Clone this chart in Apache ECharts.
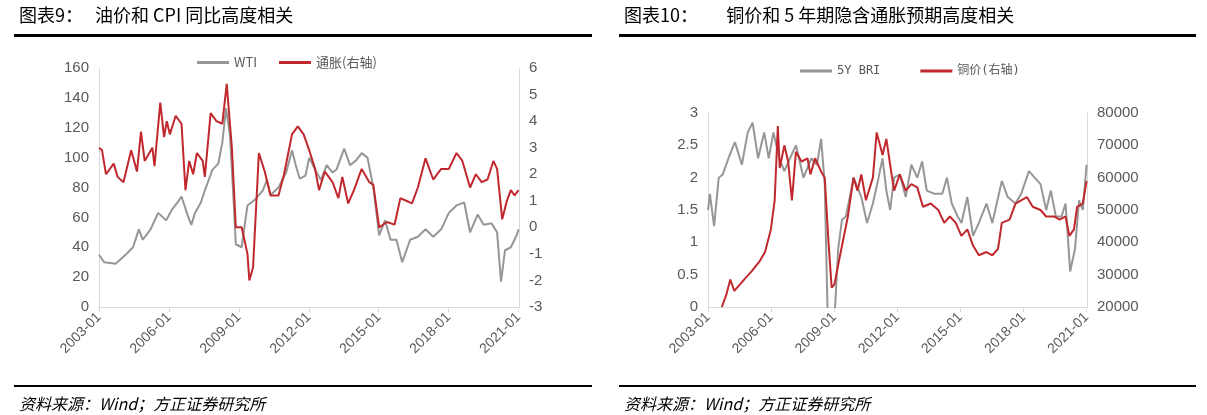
<!DOCTYPE html>
<html>
<head>
<meta charset="utf-8">
<script src="https://cdn.jsdelivr.net/npm/echarts@6/dist/echarts.min.js"></script>
<style>
  html, body { margin: 0; padding: 0; background: #fff; }
  #main { width: 1207px; height: 415px; }
</style>
</head>
<body>
<div id="main"></div>
<script>
// 图表9：WTI（左轴）与通胀（右轴）
const wtiData = [
  [2003.0, 35], [2003.22, 30], [2003.71, 29], [2004.21, 36], [2004.46, 40], [2004.71, 52],
  [2004.88, 45], [2005.21, 52], [2005.54, 63], [2005.88, 58], [2006.12, 65], [2006.37, 70],
  [2006.54, 74], [2006.79, 62], [2006.96, 55], [2007.12, 63], [2007.37, 70], [2007.54, 78],
  [2007.87, 92], [2008.12, 96], [2008.29, 110], [2008.45, 133], [2008.62, 115], [2008.78, 70],
  [2008.87, 42], [2009.12, 40], [2009.37, 68], [2009.70, 72], [2010.03, 78], [2010.20, 85],
  [2010.36, 75], [2010.70, 80], [2011.03, 90], [2011.28, 105], [2011.44, 95], [2011.61, 86],
  [2011.86, 88], [2012.02, 100], [2012.27, 92], [2012.52, 85], [2012.77, 95], [2013.02, 90],
  [2013.19, 92], [2013.52, 106], [2013.77, 95], [2014.02, 98], [2014.27, 103], [2014.52, 100],
  [2014.77, 80], [2015.02, 48], [2015.27, 58], [2015.51, 45], [2015.76, 45], [2016.01, 30],
  [2016.35, 45], [2016.68, 47], [2017.01, 52], [2017.34, 47], [2017.68, 52], [2018.01, 63],
  [2018.34, 68], [2018.67, 70], [2018.92, 50], [2019.25, 62], [2019.50, 55], [2019.84, 56],
  [2020.08, 50], [2020.25, 17], [2020.42, 38], [2020.67, 40], [2020.92, 48], [2021.0, 52]
];
const cpiData = [
  [2003.0, 3.0], [2003.13, 2.9], [2003.30, 2.0], [2003.63, 2.4], [2003.80, 1.9], [2004.05, 1.7],
  [2004.38, 2.9], [2004.63, 2.1], [2004.80, 3.6], [2004.96, 2.5], [2005.29, 3.0], [2005.38, 2.3],
  [2005.63, 4.7], [2005.79, 3.4], [2005.91, 4.0], [2006.04, 3.5], [2006.29, 4.2], [2006.54, 3.9],
  [2006.71, 1.4], [2006.87, 2.5], [2007.04, 2.0], [2007.20, 2.8], [2007.45, 2.5], [2007.54, 1.9],
  [2007.79, 4.3], [2008.04, 4.0], [2008.29, 3.9], [2008.48, 5.4], [2008.70, 3.0], [2008.87, 0.0],
  [2009.12, 0.0], [2009.37, -1.0], [2009.45, -2.0], [2009.61, -1.5], [2009.86, 2.8], [2010.11, 2.1],
  [2010.36, 1.2], [2010.70, 1.2], [2010.94, 2.0], [2011.28, 3.5], [2011.53, 3.8], [2011.78, 3.5],
  [2012.02, 2.9], [2012.27, 2.2], [2012.44, 1.4], [2012.69, 2.1], [2013.02, 1.7], [2013.27, 1.1],
  [2013.44, 1.9], [2013.69, 0.9], [2013.94, 1.4], [2014.27, 2.2], [2014.60, 1.7], [2014.77, 1.6],
  [2015.02, 0.0], [2015.35, 0.2], [2015.68, 0.1], [2015.93, 1.1], [2016.18, 1.0], [2016.43, 0.9],
  [2016.68, 1.5], [2017.01, 2.6], [2017.34, 1.8], [2017.68, 2.2], [2018.01, 2.2], [2018.34, 2.8],
  [2018.59, 2.5], [2018.92, 1.5], [2019.17, 2.0], [2019.42, 1.7], [2019.67, 1.8], [2019.92, 2.5],
  [2020.08, 2.2], [2020.30, 0.3], [2020.50, 1.0], [2020.67, 1.4], [2020.83, 1.2], [2021.0, 1.4]
];
// 图表10：5Y BRI（左轴）与铜价（右轴）
const briData = [
  [2003.0, 1.5], [2003.09, 1.75], [2003.29, 1.25], [2003.51, 2.0], [2003.70, 2.05], [2004.03, 2.35],
  [2004.28, 2.55], [2004.61, 2.2], [2004.89, 2.7], [2005.12, 2.85], [2005.38, 2.3], [2005.67, 2.7],
  [2005.89, 2.3], [2006.11, 2.7], [2006.39, 2.3], [2006.63, 2.1], [2006.90, 2.3], [2007.18, 2.5],
  [2007.54, 2.0], [2007.91, 2.3], [2008.18, 2.2], [2008.38, 2.6], [2008.55, 1.9], [2008.68, 0.0],
  [2008.82, -0.3], [2009.01, -0.2], [2009.19, 0.9], [2009.37, 1.35], [2009.56, 1.4], [2009.92, 2.0],
  [2010.29, 1.7], [2010.56, 1.3], [2010.84, 1.6], [2011.11, 2.0], [2011.30, 2.3], [2011.48, 1.8],
  [2011.66, 1.5], [2011.85, 2.0], [2012.12, 2.05], [2012.40, 1.7], [2012.67, 2.2], [2012.95, 2.0],
  [2013.18, 2.25], [2013.40, 1.8], [2013.77, 1.75], [2014.14, 1.75], [2014.36, 2.0], [2014.59, 1.6],
  [2014.87, 1.4], [2015.05, 1.3], [2015.33, 1.7], [2015.60, 1.1], [2015.88, 1.3], [2016.24, 1.6],
  [2016.52, 1.3], [2016.97, 1.95], [2017.25, 1.7], [2017.62, 1.6], [2017.89, 1.75], [2018.26, 2.1],
  [2018.53, 2.0], [2018.81, 1.9], [2019.08, 1.5], [2019.30, 1.8], [2019.54, 1.4], [2019.81, 1.4],
  [2020.0, 1.6], [2020.22, 0.55], [2020.45, 0.9], [2020.64, 1.65], [2020.82, 1.5], [2021.0, 2.2]
];
const copperData = [
  [2003.66, 20000], [2003.88, 24000], [2004.06, 28500], [2004.25, 25000], [2004.52, 27000],
  [2004.79, 29000], [2005.07, 31000], [2005.44, 34000], [2005.71, 37000], [2005.99, 44000],
  [2006.17, 53000], [2006.32, 76000], [2006.41, 63000], [2006.63, 70000], [2006.81, 65000],
  [2006.99, 53000], [2007.18, 68000], [2007.45, 65000], [2007.73, 66000], [2007.87, 61000],
  [2008.09, 66000], [2008.37, 62000], [2008.55, 60000], [2008.73, 40000], [2008.88, 26000],
  [2009.01, 27000], [2009.28, 36000], [2009.65, 48000], [2009.92, 60000], [2010.11, 56000],
  [2010.29, 61000], [2010.51, 53000], [2010.84, 60000], [2011.02, 74000], [2011.30, 67000],
  [2011.48, 72000], [2011.66, 64000], [2011.85, 56000], [2012.12, 61000], [2012.40, 56000],
  [2012.67, 58000], [2012.95, 57000], [2013.22, 51000], [2013.59, 52000], [2013.95, 50000],
  [2014.23, 46000], [2014.50, 48000], [2014.78, 46000], [2015.05, 42000], [2015.33, 44000],
  [2015.60, 39000], [2015.88, 36000], [2016.24, 37000], [2016.52, 36000], [2016.79, 38000],
  [2016.97, 46000], [2017.34, 47000], [2017.62, 52000], [2017.89, 53000], [2018.16, 54000],
  [2018.44, 51000], [2018.81, 50000], [2019.08, 48000], [2019.45, 48000], [2019.72, 47000],
  [2020.0, 48000], [2020.18, 42000], [2020.40, 44000], [2020.55, 51000], [2020.82, 52000],
  [2021.0, 59000]
];

var chartDom = document.getElementById('main');
var myChart = echarts.init(chartDom);
var option;
var FONT = '"Noto Sans CJK SC", sans-serif';
var labelColor = '#595959';
var axisColor = '#d9d9d9';
var lineIcon = 'path://M0,0 L32,0 L32,3 L0,3 Z';

function xAxisCfg(gridIndex) {
    return {
        type: 'value', gridIndex: gridIndex, min: 2003, max: 2021.02, interval: 3,
        axisLine: { show: true, lineStyle: { color: axisColor } },
        axisTick: { show: true, lineStyle: { color: axisColor } },
        splitLine: { show: false },
        axisLabel: {
            rotate: 45, color: labelColor, fontSize: 14, fontFamily: 'Arial, sans-serif',
            showMaxLabel: false,
            formatter: function (v) { return Number.isInteger(v) ? v + '-01' : ''; }
        }
    };
}
function yAxisCfg(gridIndex, min, max, interval, right) {
    return {
        type: 'value', gridIndex: gridIndex, min: min, max: max, interval: interval,
        position: right ? 'right' : 'left',
        axisLine: { show: true, lineStyle: { color: axisColor } },
        axisTick: { show: false },
        splitLine: { show: false },
        axisLabel: { color: labelColor, fontSize: 15, fontFamily: 'Arial, sans-serif', margin: 10,
                     formatter: function (v) { return String(v); } }
    };
}

option = {
    animation: false,
    title: [
        { text: '图表9：   油价和 CPI 同比高度相关', left: 14, top: 1,
          textStyle: { fontSize: 18, fontWeight: 'normal', color: '#000', fontFamily: FONT } },
        { text: '图表10：       铜价和 5 年期隐含通胀预期高度相关', left: 619, top: 1,
          textStyle: { fontSize: 18, fontWeight: 'normal', color: '#000', fontFamily: FONT } },
        { text: '资料来源：Wind；方正证券研究所', left: 14, top: 391,
          textStyle: { fontSize: 16, fontWeight: 'normal', fontStyle: 'italic', color: '#000', fontFamily: FONT } },
        { text: '资料来源：Wind；方正证券研究所', left: 619, top: 391,
          textStyle: { fontSize: 16, fontWeight: 'normal', fontStyle: 'italic', color: '#000', fontFamily: FONT } }
    ],
    graphic: [
        { type: 'rect', shape: { x: 14, y: 34, width: 578, height: 3 }, style: { fill: '#000' } },
        { type: 'rect', shape: { x: 619, y: 34, width: 577, height: 3 }, style: { fill: '#000' } },
        { type: 'rect', shape: { x: 14, y: 385, width: 578, height: 2 }, style: { fill: '#000' } },
        { type: 'rect', shape: { x: 619, y: 385, width: 577, height: 2 }, style: { fill: '#000' } }
    ],
    legend: [
        { data: ['WTI', '通胀(右轴)'], left: 192, top: 51, itemWidth: 32, itemHeight: 3, itemGap: 22,
          icon: lineIcon,
          textStyle: { color: labelColor, fontSize: 13, fontFamily: FONT } },
        { data: ['5Y BRI', '铜价(右轴)'], left: 795, top: 60, itemWidth: 32, itemHeight: 3, itemGap: 40,
          icon: lineIcon,
          textStyle: { color: labelColor, fontSize: 12, fontFamily: '"DejaVu Sans Mono", ' + FONT } }
    ],
    grid: [
        { left: 99, top: 68, width: 420, height: 239 },
        { left: 708, top: 113, width: 379, height: 194 }
    ],
    xAxis: [xAxisCfg(0), xAxisCfg(1)],
    yAxis: [
        yAxisCfg(0, 0, 160, 20, false),
        yAxisCfg(0, -3, 6, 1, true),
        yAxisCfg(1, 0, 3, 0.5, false),
        yAxisCfg(1, 20000, 80000, 10000, true)
    ],
    series: [
        { name: 'WTI', type: 'line', xAxisIndex: 0, yAxisIndex: 0, data: wtiData,
          symbol: 'none', lineStyle: { color: '#969696', width: 2 }, itemStyle: { color: '#969696' } },
        { name: '通胀(右轴)', type: 'line', xAxisIndex: 0, yAxisIndex: 1, data: cpiData,
          symbol: 'none', lineStyle: { color: '#c0282d', width: 2 }, itemStyle: { color: '#c0282d' } },
        { name: '5Y BRI', type: 'line', xAxisIndex: 1, yAxisIndex: 2, data: briData, clip: true,
          symbol: 'none', lineStyle: { color: '#969696', width: 2 }, itemStyle: { color: '#969696' } },
        { name: '铜价(右轴)', type: 'line', xAxisIndex: 1, yAxisIndex: 3, data: copperData,
          symbol: 'none', lineStyle: { color: '#c0282d', width: 2 }, itemStyle: { color: '#c0282d' } }
    ]
};

option && myChart.setOption(option);
</script>
</body>
</html>
